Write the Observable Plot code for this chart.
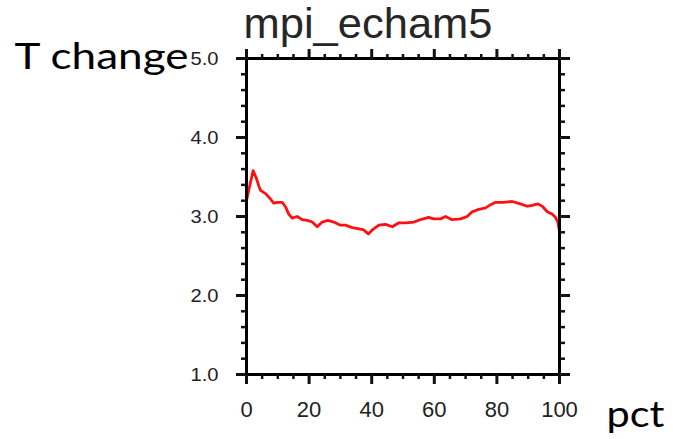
<!DOCTYPE html>
<html>
<head>
<meta charset="utf-8">
<script src="https://cdn.jsdelivr.net/npm/d3@7"></script>
<script src="https://cdn.jsdelivr.net/npm/@observablehq/plot@0.6"></script>
<style>
  html, body { margin: 0; padding: 0; background: #fff; }
  #chart { width: 673px; height: 439px; }
</style>
</head>
<body>
<div id="chart"></div>
<script>
// ---- data ----
const pct = [0, 0.7, 2.1, 3.2, 3.9, 4.5, 6.1, 7.7, 8.7, 10, 11.4, 12.5, 13.5, 14.6, 16.2, 17.8, 19.4, 21, 22.6, 24.2, 26, 27.9, 30, 31.6, 33.8, 36.4, 37.5, 38.9, 40.2, 42.3, 44.4, 46.6, 48.7, 50.8, 53.5, 55.6, 58.2, 59.8, 62, 63.6, 65.7, 68.4, 70.5, 72.1, 74.2, 76.4, 78, 79.6, 82.2, 84.9, 87.5, 89.7, 91.3, 93.1, 94.5, 96.1, 97.7, 98.7, 99.5, 100];
const tchange = [3.2, 3.33, 3.58, 3.48, 3.39, 3.33, 3.29, 3.22, 3.17, 3.18, 3.18, 3.12, 3.03, 2.98, 3.00, 2.96, 2.95, 2.93, 2.87, 2.93, 2.95, 2.93, 2.89, 2.89, 2.86, 2.84, 2.83, 2.78, 2.83, 2.89, 2.90, 2.87, 2.92, 2.92, 2.93, 2.96, 2.99, 2.97, 2.97, 3.00, 2.96, 2.97, 3.00, 3.06, 3.09, 3.11, 3.15, 3.18, 3.18, 3.19, 3.16, 3.13, 3.14, 3.16, 3.13, 3.06, 3.03, 2.99, 2.93, 2.80];
const xMajor = [0, 20, 40, 60, 80, 100];
const xMinor = [5, 10, 15, 25, 30, 35, 45, 50, 55, 65, 70, 75, 85, 90, 95];
const yMajor = [1, 2, 3, 4, 5];
const yMinor = [1.2, 1.4, 1.6, 1.8, 2.2, 2.4, 2.6, 2.8, 3.2, 3.4, 3.6, 3.8, 4.2, 4.4, 4.6, 4.8];
const titleText = "mpi_echam5";
const yTitle = "T change";
const xTitle = "pct";

const data = pct.map((p, i) => ({pct: p, t: tchange[i]}));
const blank = () => "";

const chart = Plot.plot({
  width: 673,
  height: 439,
  marginLeft: 246,
  marginRight: 114,
  marginTop: 58,
  marginBottom: 65,
  style: {fontFamily: "'Liberation Sans', Arial, sans-serif", color: "#111", background: "#fff", overflow: "visible"},
  x: {domain: [0, 100]},
  y: {domain: [1, 5]},
  marks: [
    Plot.line(data, {x: "pct", y: "t", stroke: "#ff1010", strokeWidth: 2.8, curve: "linear"}),
    Plot.frame({stroke: "#000", strokeWidth: 3}),
    // bottom
    Plot.axisX(xMajor, {anchor: "bottom", tickSize: 10, tickPadding: 17, strokeWidth: 3, fontSize: 22, label: null, tickFormat: d => String(d), fill: "#222"}),
    Plot.axisX(xMinor, {anchor: "bottom", tickSize: 5, strokeWidth: 2.5, label: null, tickFormat: blank}),
    // top
    Plot.axisX(xMajor, {anchor: "top", tickSize: 10, strokeWidth: 3, label: null, tickFormat: blank}),
    Plot.axisX(xMinor, {anchor: "top", tickSize: 5, strokeWidth: 2.5, label: null, tickFormat: blank}),
    // left
    Plot.axisY(yMajor, {anchor: "left", tickSize: 10, tickPadding: 18, strokeWidth: 3, fontSize: 19, label: null, tickFormat: d => d.toFixed(1), fill: "#222"}),
    Plot.axisY(yMinor, {anchor: "left", tickSize: 5, strokeWidth: 2.5, label: null, tickFormat: blank}),
    // right
    Plot.axisY(yMajor, {anchor: "right", tickSize: 10, strokeWidth: 3, label: null, tickFormat: blank}),
    Plot.axisY(yMinor, {anchor: "right", tickSize: 5, strokeWidth: 2.5, label: null, tickFormat: blank}),
    // texts
    Plot.text([titleText], {frameAnchor: "top", text: d => d, dx: -35, dy: -21, lineAnchor: "bottom", textAnchor: "middle", fontSize: 42, fill: "#262626", className: "t-title"}),
    Plot.text([yTitle], {frameAnchor: "top-left", text: d => d, dx: -232, dy: 10, lineAnchor: "bottom", textAnchor: "start", fontSize: 36, fontFamily: "Lato, 'Open Sans', sans-serif", fill: "#000", className: "t-ytitle"}),
    Plot.text([xTitle], {frameAnchor: "bottom-right", text: d => d, dx: 47, dy: 52, lineAnchor: "bottom", textAnchor: "start", fontSize: 36, fontFamily: "Lato, 'Open Sans', sans-serif", fill: "#000", className: "t-xtitle"})
  ]
});
document.getElementById("chart").appendChild(chart);

// stretch texts to the reference widths
function fit(nodes, w) {
  nodes.forEach(t => {
    t.setAttribute("textLength", w);
    t.setAttribute("lengthAdjust", "spacingAndGlyphs");
  });
}
fit(chart.querySelectorAll(".t-ytitle text"), 174);
fit(chart.querySelectorAll(".t-xtitle text"), 58);
fit(chart.querySelectorAll(".t-title text"), 249);
fit(Array.from(chart.querySelectorAll('g[aria-label="y-axis tick label"] text')).filter(t => t.textContent.trim() !== ""), 28);
</script>
</body>
</html>
